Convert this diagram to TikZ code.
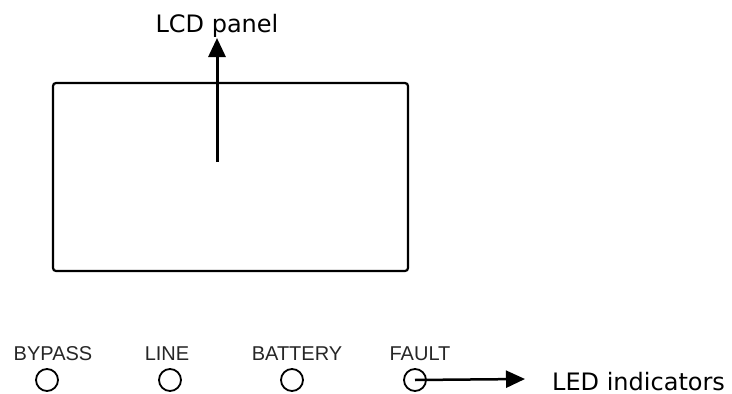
\documentclass[tikz,border=0pt]{standalone}
\usepackage{fontspec}
\setmainfont{DejaVu Sans}
\newfontfamily\ledfont{Liberation Sans}
\newcommand\ledsize{\fontsize{20}{24}\selectfont}
\usetikzlibrary{arrows.meta,positioning}

\begin{document}
\begin{tikzpicture}[x=1pt,y=-1pt,
  panelbox/.style={draw,line width=2.2pt,rounded corners=3pt,minimum width=355pt,minimum height=188pt,inner sep=0pt},
  callout/.style={font=\fontsize{24}{28}\selectfont,inner sep=0pt},
  ledlabel/.style={inner sep=0pt,anchor=base,text=black!85},
  ledlamp/.style={draw,circle,line width=1.8pt,minimum size=22pt,inner sep=0pt},
  pointer/.style={-{Triangle[length=19pt,width=17pt]},line width=3pt}]
  \useasboundingbox (0,0) rectangle (732,394);
  % front panel with display
  \node[panelbox] (lcd) at (230.5,177) {};
  \node[callout,anchor=base] (lcdlabel) at (217,32) {LCD panel};
  \coordinate (lcdtail) at (217,162);
  \coordinate (lcdtip) at (217,38);
  \draw[pointer] (lcdtail) -- (lcdtip);
  % status lamps
  \node[ledlabel] (bypasslabel) at (53,360) {\ledfont\ledsize BYPASS};
  \node[ledlabel] (linelabel) at (167,360) {\ledfont\ledsize LINE};
  \node[ledlabel] (batterylabel) at (297,360) {\ledfont\ledsize BATTERY};
  \node[ledlabel] (faultlabel) at (420,360) {\ledfont\ledsize FAULT};
  \node[ledlamp] (bypass) at (47,380) {};
  \node[ledlamp] (line) at (170,380) {};
  \node[ledlamp] (battery) at (292,380) {};
  \node[ledlamp] (fault) at (415,380) {};
  \coordinate (ledtip) at (525,379);
  \draw[pointer,line width=2.5pt] (fault.center) -- (ledtip);
  \node[callout,anchor=base west] (ledlabel) at (552,390) {LED indicators};
\end{tikzpicture}
\end{document}
